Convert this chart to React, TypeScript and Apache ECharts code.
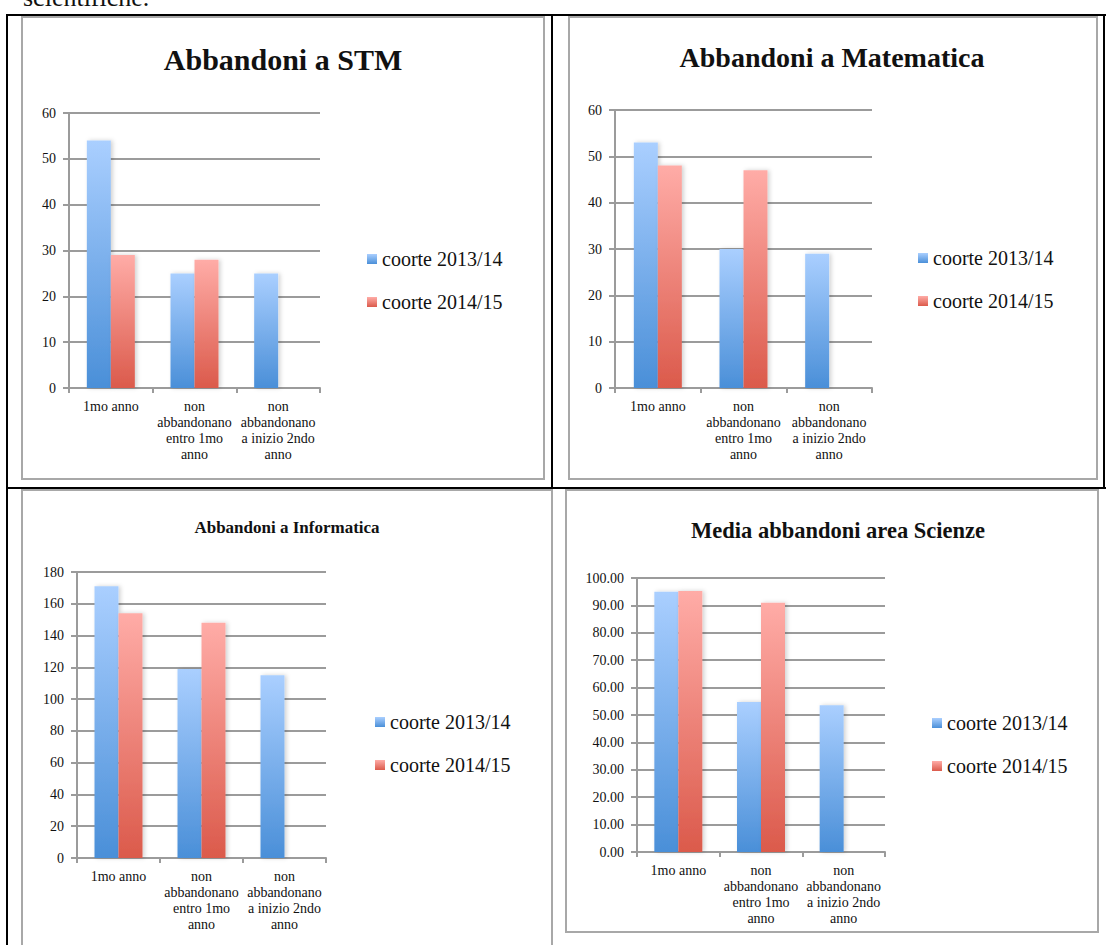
import React, { useEffect, useRef } from "react";
import * as echarts from "echarts";

// Categories shared by all four panels
const categories = [
  "1mo anno",
  "non\nabbandonano\nentro 1mo\nanno",
  "non\nabbandonano\na inizio 2ndo\nanno",
];
const seriesNames = ["coorte 2013/14", "coorte 2014/15"];

// Abbandoni a STM
const stm2013 = [54, 25, 25];
const stm2014 = [29, 28, null];
// Abbandoni a Matematica
const mat2013 = [53, 30, 29];
const mat2014 = [48, 47, null];
// Abbandoni a Informatica
const inf2013 = [171, 119, 115];
const inf2014 = [154, 148, null];
// Media abbandoni area Scienze
const media2013 = [95.0, 54.7, 53.6];
const media2014 = [95.3, 91.0, null];

const titles = [
  "Abbandoni a STM",
  "Abbandoni a Matematica",
  "Abbandoni a Informatica",
  "Media abbandoni area Scienze",
];
const yMax = [60, 60, 180, 100];
const yStep = [10, 10, 20, 10];
const yDecimals = [0, 0, 0, 2];
const values = [
  [stm2013, stm2014],
  [mat2013, mat2014],
  [inf2013, inf2014],
  [media2013, media2014],
];

// Panel layout (pixels)
const panels = [
  { grid: { left: 69, top: 113, width: 251, height: 275 }, titleX: 283, titleY: 44, titleSize: 30, legendX: 367, legendY: 249 },
  { grid: { left: 615, top: 110, width: 257, height: 278 }, titleX: 832, titleY: 43, titleSize: 28, legendX: 918, legendY: 248 },
  { grid: { left: 77, top: 572, width: 249, height: 286 }, titleX: 287, titleY: 519, titleSize: 17, legendX: 375, legendY: 712 },
  { grid: { left: 637, top: 578, width: 248, height: 274 }, titleX: 838, titleY: 519, titleSize: 22.5, legendX: 932, legendY: 713 },
];

const FONT = '"Liberation Serif", "Times New Roman", serif';
const GRID_GRAY = "#9b9b9b";
const BOX_GRAY = "#a8a8a8";

const blueFill = () =>
  new echarts.graphic.LinearGradient(0, 0, 0, 1, [
    { offset: 0, color: "#aacfff" },
    { offset: 1, color: "#4a8fd8" },
  ]);
const redFill = () =>
  new echarts.graphic.LinearGradient(0, 0, 0, 1, [
    { offset: 0, color: "#ffaca7" },
    { offset: 1, color: "#db5a4b" },
  ]);

export default function App() {
  const ref = useRef<HTMLDivElement>(null);

  useEffect(() => {
    if (!ref.current) return;
    const chart = echarts.init(ref.current, undefined, { renderer: "svg" });

    const grid = panels.map((p) => ({ ...p.grid, containLabel: false }));

    const xAxis = panels.map((_, i) => ({
      type: "category",
      gridIndex: i,
      data: categories,
      boundaryGap: true,
      axisLine: { show: true, lineStyle: { color: GRID_GRAY, width: 2 } },
      axisTick: { show: true, length: 5, alignWithLabel: false, lineStyle: { color: GRID_GRAY, width: 2 } },
      axisLabel: {
        interval: 0,
        margin: 10,
        color: "#111",
        fontFamily: FONT,
        fontSize: 14,
        lineHeight: 16,
        align: "center",
      },
      splitLine: { show: false },
    }));

    const yAxis = panels.map((_, i) => ({
      type: "value",
      gridIndex: i,
      min: 0,
      max: yMax[i],
      interval: yStep[i],
      axisLine: { show: true, lineStyle: { color: GRID_GRAY, width: 2 } },
      axisTick: { show: true, length: 6, lineStyle: { color: GRID_GRAY, width: 2 } },
      axisLabel: {
        margin: 13,
        color: "#111",
        fontFamily: FONT,
        fontSize: 14,
        formatter: (v: number) => v.toFixed(yDecimals[i]),
      },
      splitLine: { show: true, lineStyle: { color: GRID_GRAY, width: 2 } },
    }));

    const series: any[] = [];
    values.forEach((pair, i) => {
      pair.forEach((data, s) => {
        series.push({
          type: "bar",
          name: seriesNames[s],
          xAxisIndex: i,
          yAxisIndex: i,
          data,
          barWidth: 24,
          barGap: "0%",
          itemStyle: {
            color: s === 0 ? blueFill() : redFill(),
            shadowBlur: 4,
            shadowOffsetX: 2,
            shadowColor: "rgba(0,0,0,0.18)",
          },
        });
      });
    });

    const title = panels.map((p, i) => ({
      text: titles[i],
      left: p.titleX,
      top: p.titleY,
      textAlign: "center",
      padding: 0,
      textStyle: { fontFamily: FONT, fontWeight: "bold", fontSize: p.titleSize, color: "#111" },
    }));

    const legend = panels.map((p) => ({
      orient: "vertical",
      left: p.legendX,
      top: p.legendY,
      padding: 0,
      itemWidth: 10,
      itemHeight: 10,
      itemGap: 23,
      itemTextGap: 4,
      icon: "rect",
      selectedMode: false,
      data: seriesNames,
      textStyle: { fontFamily: FONT, fontSize: 20, color: "#111", lineHeight: 20 },
    }));

    const blackLine = (x1: number, y1: number, x2: number, y2: number) => ({
      type: "line",
      shape: { x1, y1, x2, y2 },
      style: { stroke: "#000", lineWidth: 2 },
      silent: true,
    });
    const box = (x: number, y: number, w: number, h: number) => ({
      type: "rect",
      shape: { x, y, width: w, height: h },
      style: { fill: "none", stroke: BOX_GRAY, lineWidth: 2 },
      silent: true,
    });

    const graphic = [
      {
        // tail of the preceding paragraph, scrolled partly out of view
        type: "text",
        style: {
          text: "scientifiche.",
          x: 23,
          y: -3,
          verticalAlign: "middle",
          font: `26px ${FONT}`,
          fill: "#111",
        },
        silent: true,
      },
      // document table rules
      blackLine(6, 15, 1106, 15),
      blackLine(7, 14, 7, 945),
      blackLine(552, 14, 552, 488),
      blackLine(6, 488, 1106, 488),
      blackLine(1104, 14, 1104, 488),
      // chart frames
      box(22, 17, 522, 462),
      box(569, 17, 528, 462),
      box(22, 490, 530, 470),
      box(566, 490, 532, 442),
    ];

    chart.setOption({
      animation: false,
      backgroundColor: "#ffffff",
      title,
      legend,
      grid,
      xAxis,
      yAxis,
      series,
      graphic,
    });

    return () => chart.dispose();
  }, []);

  return (
    <div
      ref={ref}
      style={{ position: "absolute", left: 0, top: 0, width: 1106, height: 945, background: "#fff" }}
    />
  );
}
